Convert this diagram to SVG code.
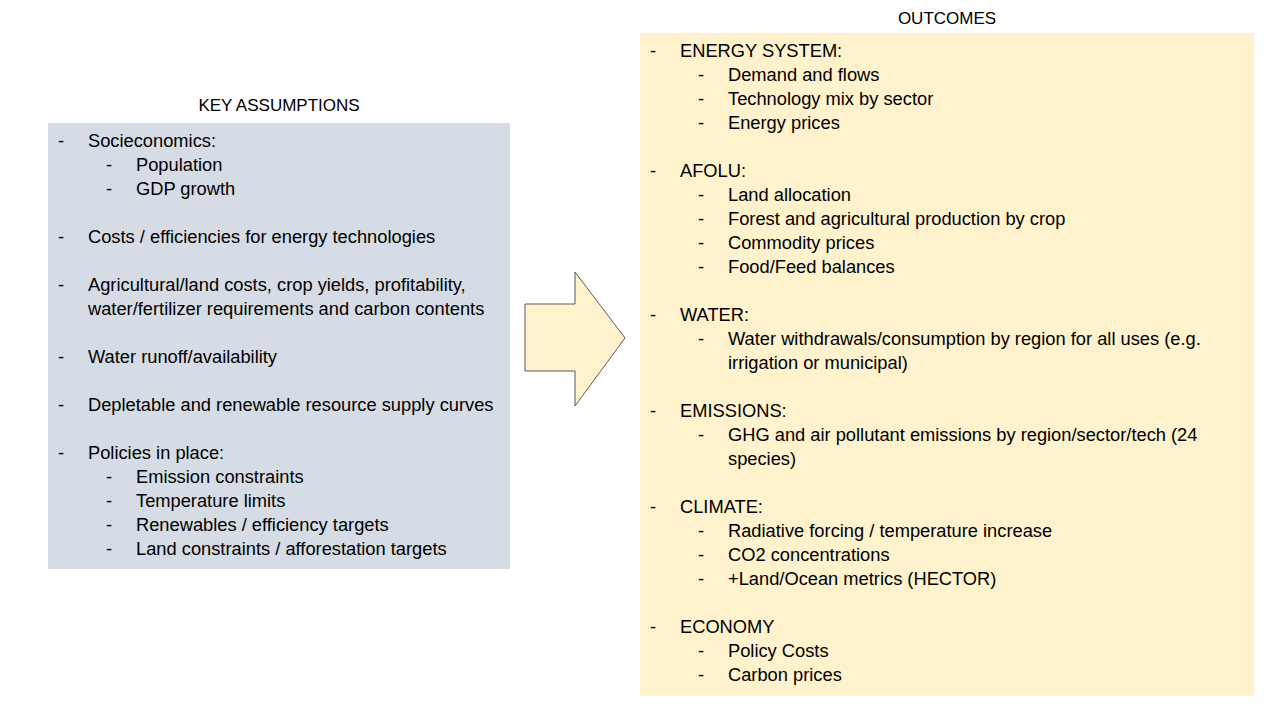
<svg xmlns="http://www.w3.org/2000/svg" width="1280" height="720" viewBox="0 0 1280 720">
<style>
text{font-family:"Liberation Sans",Arial,sans-serif;font-size:18.3px;fill:#000}
.h{text-anchor:middle;font-size:17px}
</style>
<rect width="1280" height="720" fill="#fff"/>
<g id="key-assumptions">
<rect x="48" y="123" width="462" height="446" fill="#D6DCE5"/>
<text class="h" x="279" y="111">KEY ASSUMPTIONS</text>
<g transform="translate(0,1)">
<text x="58" y="146">-</text><text x="88" y="146">Socieconomics:</text>
<text x="106" y="170">-</text><text x="136" y="170">Population</text>
<text x="106" y="194">-</text><text x="136" y="194">GDP growth</text>
<text x="58" y="242">-</text><text x="88" y="242">Costs / efficiencies for energy technologies</text>
<text x="58" y="290">-</text><text x="88" y="290">Agricultural/land costs, crop yields, profitability,</text>
<text x="88" y="314">water/fertilizer requirements and carbon contents</text>
<text x="58" y="362">-</text><text x="88" y="362">Water runoff/availability</text>
<text x="58" y="410">-</text><text x="88" y="410">Depletable and renewable resource supply curves</text>
<text x="58" y="458">-</text><text x="88" y="458">Policies in place:</text>
<text x="106" y="482">-</text><text x="136" y="482">Emission constraints</text>
<text x="106" y="506">-</text><text x="136" y="506">Temperature limits</text>
<text x="106" y="530">-</text><text x="136" y="530">Renewables / efficiency targets</text>
<text x="106" y="554">-</text><text x="136" y="554">Land constraints / afforestation targets</text>
</g>
</g>
<g id="connectors">
<path d="M525,304 L575,304 L575,272 L625,338 L575,406 L575,371 L525,371 Z" fill="#FFF2CC" stroke="#595959" stroke-width="1"/>
</g>
<g id="outcomes">
<rect x="640" y="33" width="614" height="663" fill="#FFF2CC"/>
<text class="h" x="947" y="24">OUTCOMES</text>
<g transform="translate(0,1)">
<text x="650" y="56">-</text><text x="680" y="56">ENERGY SYSTEM:</text>
<text x="698" y="80">-</text><text x="728" y="80">Demand and flows</text>
<text x="698" y="104">-</text><text x="728" y="104">Technology mix by sector</text>
<text x="698" y="128">-</text><text x="728" y="128">Energy prices</text>
<text x="650" y="176">-</text><text x="680" y="176">AFOLU:</text>
<text x="698" y="200">-</text><text x="728" y="200">Land allocation</text>
<text x="698" y="224">-</text><text x="728" y="224">Forest and agricultural production by crop</text>
<text x="698" y="248">-</text><text x="728" y="248">Commodity prices</text>
<text x="698" y="272">-</text><text x="728" y="272">Food/Feed balances</text>
<text x="650" y="320">-</text><text x="680" y="320">WATER:</text>
<text x="698" y="344">-</text><text x="728" y="344">Water withdrawals/consumption by region for all uses (e.g.</text>
<text x="728" y="368">irrigation or municipal)</text>
<text x="650" y="416">-</text><text x="680" y="416">EMISSIONS:</text>
<text x="698" y="440">-</text><text x="728" y="440">GHG and air pollutant emissions by region/sector/tech (24</text>
<text x="728" y="464">species)</text>
<text x="650" y="512">-</text><text x="680" y="512">CLIMATE:</text>
<text x="698" y="536">-</text><text x="728" y="536">Radiative forcing / temperature increase</text>
<text x="698" y="560">-</text><text x="728" y="560">CO2 concentrations</text>
<text x="698" y="584">-</text><text x="728" y="584">+Land/Ocean metrics (HECTOR)</text>
<text x="650" y="632">-</text><text x="680" y="632">ECONOMY</text>
<text x="698" y="656">-</text><text x="728" y="656">Policy Costs</text>
<text x="698" y="680">-</text><text x="728" y="680">Carbon prices</text>
</g>
</g>
</svg>
